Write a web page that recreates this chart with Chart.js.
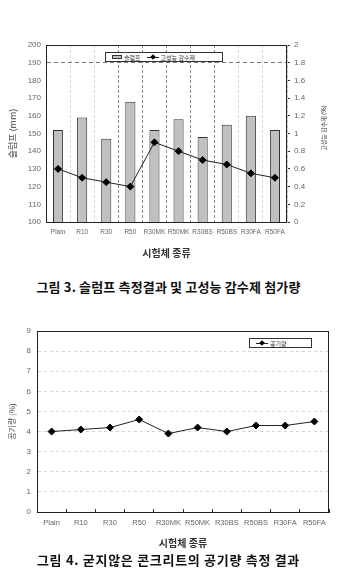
<!DOCTYPE html>
<html>
<head>
<meta charset="utf-8">
<script src="https://cdn.jsdelivr.net/npm/chart.js@4"></script>
<style>
body { margin: 0; width: 337px; height: 585px; background: #fff; position: relative; overflow: hidden; font-family: "Noto Sans CJK KR", sans-serif; }
canvas { position: absolute; left: 0; }
#slumpChart { top: 30px; }
#airChart { top: 300px; }
.caption { position: absolute; left: 0; width: 337px; text-align: center; font-weight: bold; font-size: 13px; line-height: 14px; color: #111; }
.legend { position: absolute; box-sizing: border-box; border: 1px solid #333; background: #fff; color: #333; font-size: 6px; line-height: 7px; display: flex; align-items: center; white-space: nowrap; }
.legend .item { display: flex; align-items: center; margin-left: 6px; }
.legend .bar { width: 8px; height: 2px; background: #c0c0c0; border: 1px solid #333; margin-right: 2px; }
.legend .line { position: relative; width: 12px; height: 1px; background: #222; margin-right: 2px; }
.legend .line i { position: absolute; left: 4px; top: -2px; width: 4px; height: 4px; background: #000; transform: rotate(45deg); }
</style>
</head>
<body>
<canvas id="slumpChart" width="337" height="240"></canvas>
<canvas id="airChart" width="337" height="255"></canvas>
<div id="slumpLegend" class="legend" style="left:105px; top:52px; width:118px; height:10px;"></div>
<div id="airLegend" class="legend" style="left:249px; top:338px; width:63px; height:10px;"></div>
<div class="caption" style="top:280px; letter-spacing:0.15px;">그림 3. 슬럼프 측정결과 및 고성능 감수제 첨가량</div>
<div class="caption" style="top:553px; letter-spacing:0.7px;">그림 4. 굳지않은 콘크리트의 공기량 측정 결과</div>
<script>
const categories = ["Plain", "R10", "R30", "R50", "R30MK", "R50MK", "R30BS", "R50BS", "R30FA", "R50FA"];
const slump = [152, 159, 147, 168, 152, 158, 148, 155, 160, 152];
const superplasticizer = [0.6, 0.5, 0.45, 0.4, 0.9, 0.8, 0.7, 0.65, 0.55, 0.5];
const airContent = [4.0, 4.1, 4.2, 4.6, 3.9, 4.2, 4.0, 4.3, 4.3, 4.5];

const slumpTicks = { min: 100, max: 200, step: 10 };
const dosageTicks = { min: 0, max: 2, step: 0.2 };
const airTicks = { min: 0, max: 9, step: 1 };

const numFont = "'Liberation Sans', Arial, sans-serif";
const krFont = "'Noto Sans CJK KR', sans-serif";

// box around the plot area
const framePlugin = {
    id: "frame",
    afterDraw(chart) {
        const a = chart.chartArea;
        const ctx = chart.ctx;
        ctx.save();
        ctx.strokeStyle = "#222";
        ctx.lineWidth = 1;
        ctx.strokeRect(Math.round(a.left) + 0.5, Math.round(a.top) + 0.5,
            Math.round(a.right - a.left) - 1, Math.round(a.bottom - a.top));
        ctx.restore();
    }
};

// right axis title reads bottom to top like the left one
const rightTitlePlugin = {
    id: "rightTitle",
    afterDraw(chart, args, opts) {
        const ctx = chart.ctx;
        ctx.save();
        ctx.translate(opts.x, opts.y);
        ctx.rotate(-Math.PI / 2);
        ctx.font = "6px " + krFont;
        ctx.fillStyle = "#333";
        ctx.textAlign = "center";
        ctx.textBaseline = "middle";
        ctx.fillText(opts.text, 0, 0);
        ctx.restore();
    }
};

function buildLegend(el, datasets) {
    el.innerHTML = "";
    datasets.forEach(ds => {
        const item = document.createElement("span");
        item.className = "item";
        const sw = document.createElement("span");
        if (ds.type === "bar") {
            sw.className = "bar";
        } else {
            sw.className = "line";
            sw.appendChild(document.createElement("i"));
        }
        item.appendChild(sw);
        item.appendChild(document.createTextNode(ds.label));
        el.appendChild(item);
    });
}

function drawSlumpChart() {
    const datasets = [
        {
            type: "bar",
            label: "슬럼프",
            data: slump,
            yAxisID: "y",
            backgroundColor: "#c0c0c0",
            borderColor: "#333",
            borderWidth: 1,
            categoryPercentage: 0.42,
            barPercentage: 1,
            order: 2
        },
        {
            type: "line",
            label: "고성능 감수제",
            data: superplasticizer,
            yAxisID: "y2",
            borderColor: "#222",
            borderWidth: 1,
            pointStyle: "rectRot",
            pointRadius: 3.5,
            pointBackgroundColor: "#000",
            pointBorderColor: "#000",
            tension: 0,
            order: 1
        }
    ];

    new Chart(document.getElementById("slumpChart"), {
        type: "bar",
        data: { labels: categories, datasets: datasets },
        options: {
            responsive: false,
            animation: false,
            layout: { padding: { top: 15, right: 0, left: 0, bottom: 0 } },
            plugins: {
                legend: { display: false },
                tooltip: { enabled: false },
                rightTitle: { text: "고성능 감수제 (%)", x: 324, y: 98 }
            },
            scales: {
                x: {
                    offset: true,
                    grid: {
                        offset: true,
                        drawTicks: false,
                        color: c => {
                            if (c.index >= 3 && c.index <= 7) return "#888";
                            if (c.index === 0 || c.index === 10) return "rgba(0,0,0,0)";
                            return "#d8d8d8";
                        }
                    },
                    border: { dash: [3, 2] },
                    ticks: { font: { family: numFont, size: 6.5 }, color: "#666", padding: 6, maxRotation: 0, autoSkip: false },
                    title: {
                        display: true, text: "시험체 종류", color: "#333",
                        font: { family: krFont, size: 10, weight: "bold" },
                        padding: { top: 0, bottom: 11 }
                    },
                    afterFit: s => { s.height = 48; }
                },
                y: {
                    min: slumpTicks.min,
                    max: slumpTicks.max,
                    ticks: { stepSize: slumpTicks.step, font: { family: numFont, size: 8 }, color: "#666", padding: 5 },
                    grid: {
                        drawTicks: false,
                        color: c => (c.tick && c.tick.value === 190 ? "#777" : "rgba(0,0,0,0)")
                    },
                    border: { dash: [4, 3] },
                    title: {
                        display: true, text: "슬럼프 (mm)", color: "#444",
                        font: { family: krFont, size: 9 },
                        padding: { top: 7, bottom: 0 }
                    },
                    afterFit: s => { s.width = 46; }
                },
                y2: {
                    position: "right",
                    min: dosageTicks.min,
                    max: dosageTicks.max,
                    ticks: {
                        stepSize: dosageTicks.step,
                        font: { family: numFont, size: 8 }, color: "#666", padding: 4,
                        callback: v => Math.round(v * 10) / 10
                    },
                    grid: { drawOnChartArea: false, drawTicks: true, tickLength: 3, tickColor: "#333" },
                    afterFit: s => { s.width = 50; }
                }
            }
        },
        plugins: [framePlugin, rightTitlePlugin]
    });

    buildLegend(document.getElementById("slumpLegend"), datasets);
}

function drawAirChart() {
    const datasets = [
        {
            type: "line",
            label: "공기량",
            data: airContent,
            borderColor: "#222",
            borderWidth: 1,
            pointStyle: "rectRot",
            pointRadius: 3.5,
            pointBackgroundColor: "#000",
            pointBorderColor: "#000",
            tension: 0
        }
    ];

    new Chart(document.getElementById("airChart"), {
        type: "line",
        data: { labels: categories, datasets: datasets },
        options: {
            responsive: false,
            animation: false,
            layout: { padding: { top: 31, right: 8, left: 0, bottom: 0 } },
            plugins: {
                legend: { display: false },
                tooltip: { enabled: false }
            },
            scales: {
                x: {
                    offset: true,
                    grid: { offset: true, drawOnChartArea: false, drawTicks: true, tickLength: -3, tickColor: "#333" },
                    ticks: { font: { family: numFont, size: 7.5 }, color: "#666", padding: 9.5, maxRotation: 0, autoSkip: false },
                    title: {
                        display: true, text: "시험체 종류", color: "#333",
                        font: { family: krFont, size: 10, weight: "bold" },
                        padding: { top: 0, bottom: 6 }
                    },
                    afterFit: s => { s.height = 43; }
                },
                y: {
                    min: airTicks.min,
                    max: airTicks.max,
                    ticks: { stepSize: airTicks.step, font: { family: numFont, size: 8 }, color: "#666", padding: 6 },
                    grid: {
                        drawTicks: false,
                        color: c => (c.tick && (c.tick.value === airTicks.min || c.tick.value === airTicks.max) ? "rgba(0,0,0,0)" : "#d4d4d4")
                    },
                    border: { dash: [3, 3] },
                    title: {
                        display: true, text: "공기량 (%)", color: "#444",
                        font: { family: krFont, size: 8 },
                        padding: { top: 7, bottom: 0 }
                    },
                    afterFit: s => { s.width = 37; }
                }
            }
        },
        plugins: [framePlugin]
    });

    buildLegend(document.getElementById("airLegend"), datasets);
}

drawSlumpChart();
drawAirChart();
</script>
</body>
</html>
